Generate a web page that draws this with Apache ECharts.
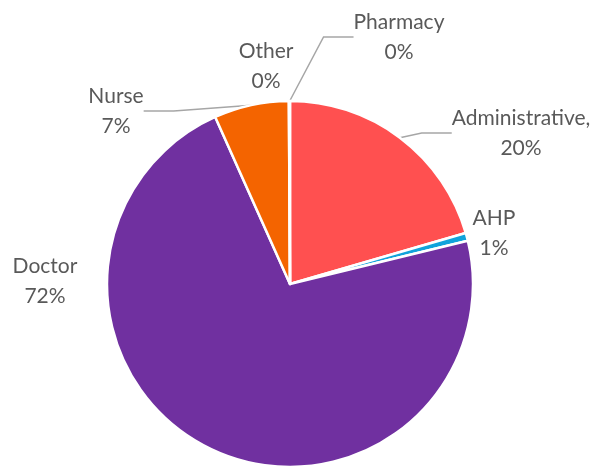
<!DOCTYPE html>
<html>
<head>
    <meta charset="utf-8">
    <script src="https://cdn.jsdelivr.net/npm/echarts@6/dist/echarts.min.js"></script>
</head>
<body style="margin:0;background:#fff;">
    <div id="main" style="width:602px;height:469px;"></div>
    <script type="text/javascript">
        // staff groups, clockwise from 12 o'clock
        var categories = ['Administrative', 'AHP', 'Doctor', 'Nurse', 'Other', 'Pharmacy'];
        var values = [20.5, 0.7, 72.1, 6.6, 0.05, 0.05];
        var colors = ['#FF5050', '#10A3DB', '#7030A0', '#F46400', '#A5A5A5', '#FFC000'];

        // where Excel put each label (centre of the text block)
        var labelPos = [[521, 133], [494, 233], [45, 281], [116, 111], [266, 66], [399, 37]];
        var showLine = [true, false, false, true, false, true];

        var data = [];
        for (var i = 0; i < categories.length; i++) {
            data.push({
                name: categories[i],
                value: values[i],
                itemStyle: {color: colors[i]},
                labelLine: {show: showLine[i]}
            });
        }

        var option = {
            animation: false,
            backgroundColor: '#fff',
            series: [{
                type: 'pie',
                center: [290, 284],
                radius: [0, 183],
                startAngle: 90,
                clockwise: true,
                percentPrecision: 0,
                avoidLabelOverlap: false,
                itemStyle: {borderColor: '#fff', borderWidth: 2.5},
                label: {
                    show: true,
                    position: 'outside',
                    color: '#595959',
                    fontFamily: 'Lato',
                    fontSize: 21,
                    lineHeight: 30,
                    align: 'center',
                    formatter: function (p) {
                        var sep = p.dataIndex === 0 ? ',' : '';
                        return p.name + sep + '\n' + p.percent + '%';
                    }
                },
                labelLine: {
                    lineStyle: {color: '#A6A6A6', width: 1.5}
                },
                labelLayout: function (p) {
                    var pos = labelPos[p.dataIndex];
                    return {
                        x: pos[0],
                        y: pos[1],
                        align: 'center',
                        verticalAlign: 'middle'
                    };
                },
                data: data
            }]
        };

        var myChart = echarts.init(document.getElementById('main'));
        myChart.setOption(option);
    </script>
</body>
</html>
